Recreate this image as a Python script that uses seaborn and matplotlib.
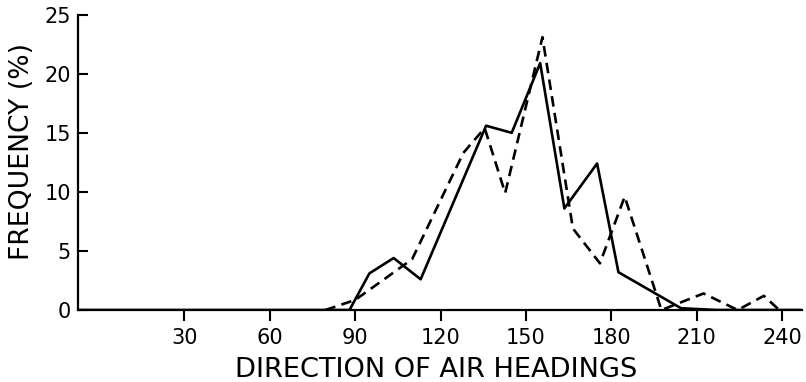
import matplotlib
matplotlib.use("Agg")
import matplotlib.pyplot as plt
import seaborn as sns
import pandas as pd

# ---- data ----
solid_dir = [-7, 88, 95, 103.5, 113, 136, 145, 155, 163.5, 175, 182.5, 204.5, 217, 247]
solid_freq = [0, 0, 3.1, 4.4, 2.6, 15.6, 15.0, 20.9, 8.6, 12.4, 3.2, 0.15, 0, 0]

dashed_dir = [79.5, 90, 110, 128, 135.5, 142.7, 155.8, 166.5, 176, 184.7, 197.6, 212.4, 224.4, 233.6, 239]
dashed_freq = [0, 0.85, 4.3, 13.3, 15.4, 9.9, 23.1, 6.9, 3.95, 9.6, 0, 1.4, 0, 1.2, 0]

x_ticks = [30, 60, 90, 120, 150, 180, 210, 240]
y_ticks = [0, 5, 10, 15, 20, 25]

x_label = "DIRECTION OF AIR HEADINGS"
y_label = "FREQUENCY (%)"

df = pd.concat([
    pd.DataFrame({"direction": solid_dir, "freq": solid_freq, "series": "solid"}),
    pd.DataFrame({"direction": dashed_dir, "freq": dashed_freq, "series": "dashed"}),
], ignore_index=True)

sns.set_style("ticks")
plt.rcParams["font.family"] = ["DejaVu Sans"]

fig = plt.figure(figsize=(8.06, 3.82), dpi=100)
ax = fig.add_axes([78 / 806, 1 - 310 / 382, (802 - 78) / 806, (310 - 14.7) / 382])

sns.lineplot(data=df, x="direction", y="freq", style="series",
             dashes={"solid": "", "dashed": (4, 2.4)},
             color="black", linewidth=1.9, estimator=None, sort=False,
             legend=False, ax=ax)

ax.set_xlim(-7.4, 247)
ax.set_ylim(0, 25)
ax.set_xticks(x_ticks)
ax.set_yticks(y_ticks)
ax.tick_params(axis="x", direction="out", length=8, width=1.5, pad=5,
               labelsize=15, colors="black")
ax.tick_params(axis="y", direction="in", length=7, width=1.5, pad=5,
               labelsize=15, colors="black")

sns.despine(ax=ax)
for s in ["left", "bottom"]:
    ax.spines[s].set_linewidth(1.6)
    ax.spines[s].set_color("black")

ax.set_xlabel(x_label, fontsize=19.6, color="black")
ax.set_ylabel(y_label, fontsize=19.2, color="black")
ax.xaxis.set_label_coords(0.4943, -0.160)
ax.yaxis.set_label_coords(-0.0594, 0.536)

fig.savefig("out.png", dpi=100, facecolor="white")
